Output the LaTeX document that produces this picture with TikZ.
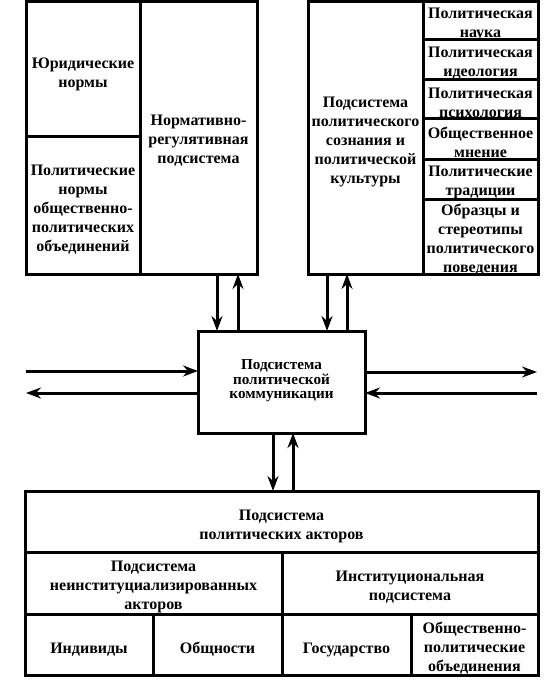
\documentclass[tikz,border=0pt]{standalone}
\usepackage{fontspec}
\setmainfont{Liberation Serif}
\usetikzlibrary{arrows.meta}
\tikzset{
  blk/.style={draw,line width=3pt,outer sep=0pt,inner sep=0pt},
  txt/.style={align=center,inner sep=0pt,font=\fontsize{16}{19}\selectfont\bfseries},
  onetxt/.style={txt,anchor=base},
  ctxt/.style={txt,font=\fontsize{15.2}{14.5}\selectfont\bfseries},
}
\begin{document}
\begin{tikzpicture}[x=1pt,y=-1pt,line width=3pt,>={Stealth[length=15pt,width=11pt,inset=5pt]}]
	\useasboundingbox (0,0) rectangle (557,695);
	% blocks
	\node[blk,minimum width=231pt,minimum height=272pt] (normblk) at (141.5,138) {};
	\node[blk,minimum width=230pt,minimum height=272pt] (consblk) at (423,138) {};
	\node[blk,minimum width=167pt,minimum height=102pt] (commblk) at (281.5,382) {};
	\node[blk,minimum width=513pt,minimum height=184pt] (actblk) at (281.5,583) {};
	\draw (140,2)--(140,274) (26,137)--(140,137);
	\draw (423,2)--(423,274);
	\foreach \y in {40,80,119,160,199}{
		\draw (423,\y)--(538,\y);
	}
	\draw (25,552)--(538,552) (25,614)--(538,614) (282,552)--(282,675);
	\draw (153,614)--(153,675) (411,614)--(411,675);
	% texts
	\node[txt] (jurnorm) at (83,74) {Юридические\\нормы};
	\node[txt] (polnorm) at (83,210) {Политические\\нормы\\общественно-\\политических\\объединений};
	\node[txt] (normsub) at (198.5,141) {Нормативно-\\регулятивная\\подсистема};
	\node[txt] (conssub) at (365.5,142) {Подсистема\\политического\\сознания и\\политической\\культуры};
	\foreach \y/\t [count=\i] in {24/{Политическая\\наука},63/{Политическая\\идеология},102.5/{Политическая\\психология},142.5/{Общественное\\мнение},182.5/{Политические\\традиции},240/{Образцы и\\стереотипы\\политического\\поведения}}{
		\node[txt] (cons\i) at (480.5,\y) {\t};
	}
	\node[ctxt] (commsub) at (281.5,381) {Подсистема\\политической\\коммуникации};
	\node[txt] (actsub) at (281.5,526) {Подсистема\\политических акторов};
	\node[txt] (noninst) at (153.5,587) {Подсистема\\неинституциализированных\\акторов};
	\node[txt] (inst) at (410,587) {Институциональная\\подсистема};
	\node[onetxt] (indiv) at (89,653) {Индивиды};
	\node[onetxt] (commun) at (217.5,653) {Общности};
	\node[onetxt] (state) at (346.5,653) {Государство};
	\node[txt] (assoc) at (474.5,648) {Общественно-\\политические\\объединения};
	% connectors
	\foreach \x/\n in {217/a,238/b,327/c,347/d,273/e,293/f}{
		\coordinate (\n) at (\x,0);
	}
	\draw[->] (normblk.south -| a)--(commblk.north -| a);
	\draw[->] (commblk.north -| b)--(normblk.south -| b);
	\draw[->] (consblk.south -| c)--(commblk.north -| c);
	\draw[->] (commblk.north -| d)--(consblk.south -| d);
	\draw[->] (commblk.south -| e)--(actblk.north -| e);
	\draw[->] (actblk.north -| f)--(commblk.south -| f);
	\coordinate (w1) at (26,371);
	\coordinate (w2) at (26,393);
	\coordinate (e1) at (537,372);
	\coordinate (e2) at (537,393);
	\draw[->] (w1)--(commblk.west |- w1);
	\draw[->] (commblk.west |- w2)--(w2);
	\draw[->] (commblk.east |- e1)--(e1);
	\draw[->] (e2)--(commblk.east |- e2);
\end{tikzpicture}
\end{document}
